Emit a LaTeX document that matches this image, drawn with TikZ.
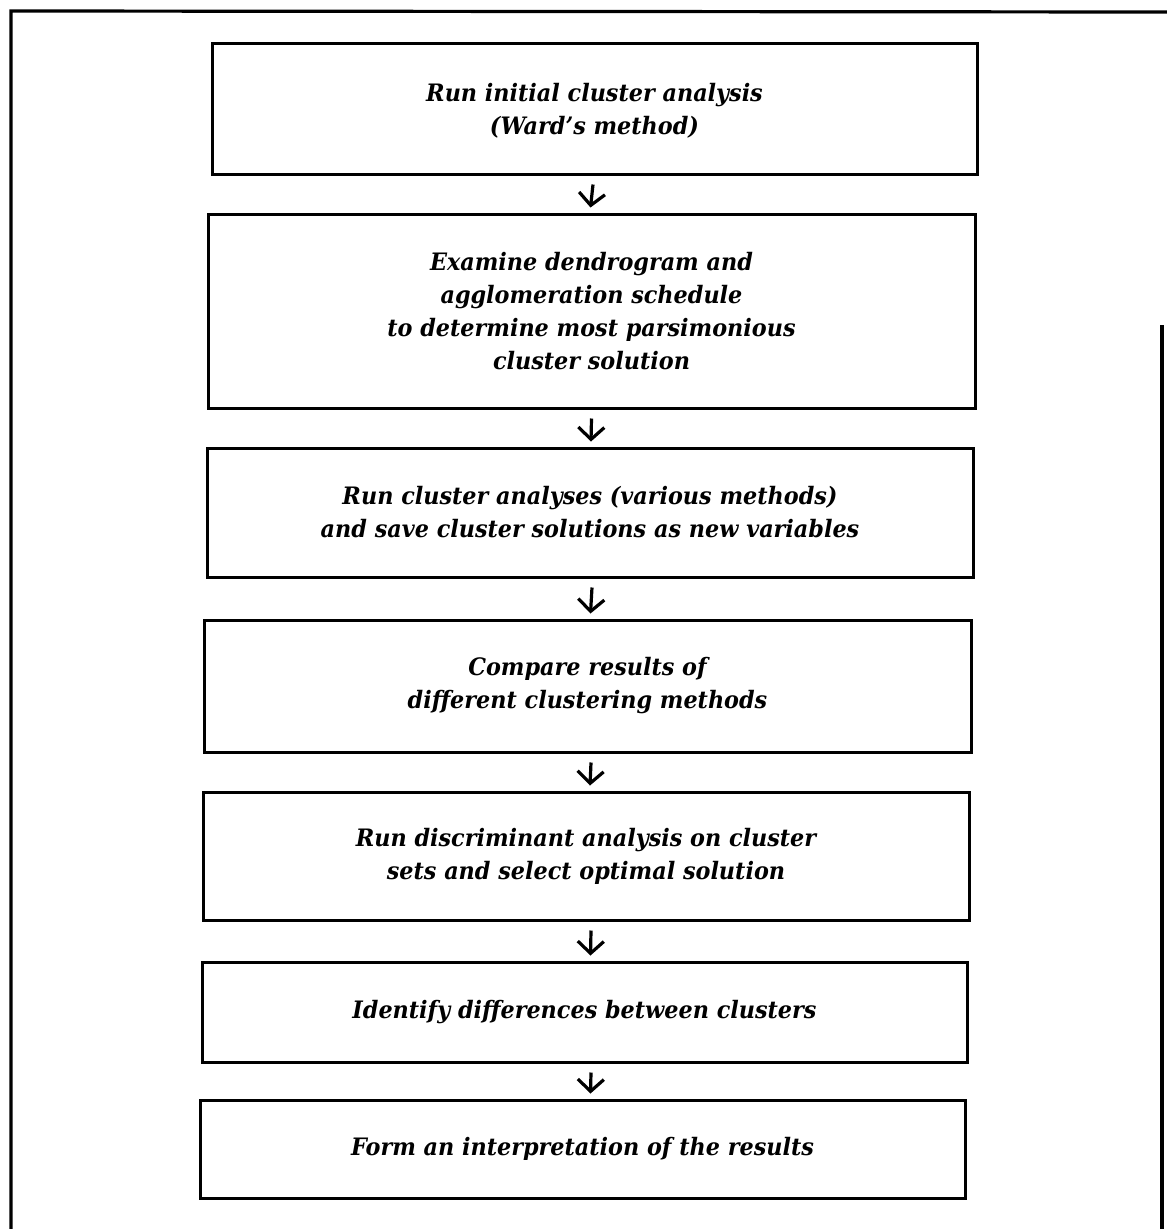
\documentclass[tikz,border=0pt]{standalone}
\usepackage{fontspec}
\setmainfont{DejaVu Serif}[FakeStretch=0.93]
\usetikzlibrary{arrows.meta}
\begin{document}
\begin{tikzpicture}[x=1pt,y=-1pt,
  stepbox/.style={draw, line width=3pt, inner sep=0pt, align=center,
    font=\fontsize{24}{33}\selectfont\bfseries\itshape},
  arr/.style={line width=3.2pt, -{Straight Barb[length=12pt,width=26pt,line width=3.2pt]}},
  frame/.style={line width=3.2pt}]
\useasboundingbox (0,0) rectangle (1167,1229);
\draw[frame] (11,1229) -- (11,11) -- (1167,12);
\draw[frame] (1162,325) -- (1162,1229);
\node[stepbox, minimum width=765pt, minimum height=131pt, text depth=-8pt] (b1) at (594.5,108.5)
  {Run initial cluster analysis\\(Ward's method)};
\node[stepbox, minimum width=767pt, minimum height=194pt] (b2) at (591.5,311)
  {Examine dendrogram and\\agglomeration schedule\\to determine most parsimonious\\cluster solution};
\node[stepbox, minimum width=766pt, minimum height=129pt] (b3) at (590,512.5)
  {Run cluster analyses (various methods)\\and save cluster solutions as new variables};
\node[stepbox, minimum width=767pt, minimum height=132pt] (b4) at (587.5,686)
  {Compare results of\\different clustering methods};
\node[stepbox, minimum width=766pt, minimum height=128pt] (b5) at (586,856)
  {Run discriminant analysis on cluster\\sets and select optimal solution};
\node[stepbox, minimum width=765pt, minimum height=100pt] (b6) at (584.5,1012)
  {Identify differences between clusters};
\node[stepbox, minimum width=765pt, minimum height=98pt] (b7) at (582.5,1149)
  {Form an interpretation of the results};
\draw[arr] ([shift={(-1.5,9)}]b1.south) -- ([shift={(-1,-5)}]b2.north);
\draw[arr] ([shift={(0,9)}]b2.south) -- ([shift={(1,-5)}]b3.north);
\draw[arr] ([shift={(2,9)}]b3.south) -- ([shift={(3,-5)}]b4.north);
\draw[arr] ([shift={(3.5,9)}]b4.south) -- ([shift={(4,-5)}]b5.north);
\draw[arr] ([shift={(5,9)}]b5.south) -- ([shift={(6,-5)}]b6.north);
\draw[arr] ([shift={(6.5,9)}]b6.south) -- ([shift={(8,-5)}]b7.north);
\end{tikzpicture}
\end{document}
